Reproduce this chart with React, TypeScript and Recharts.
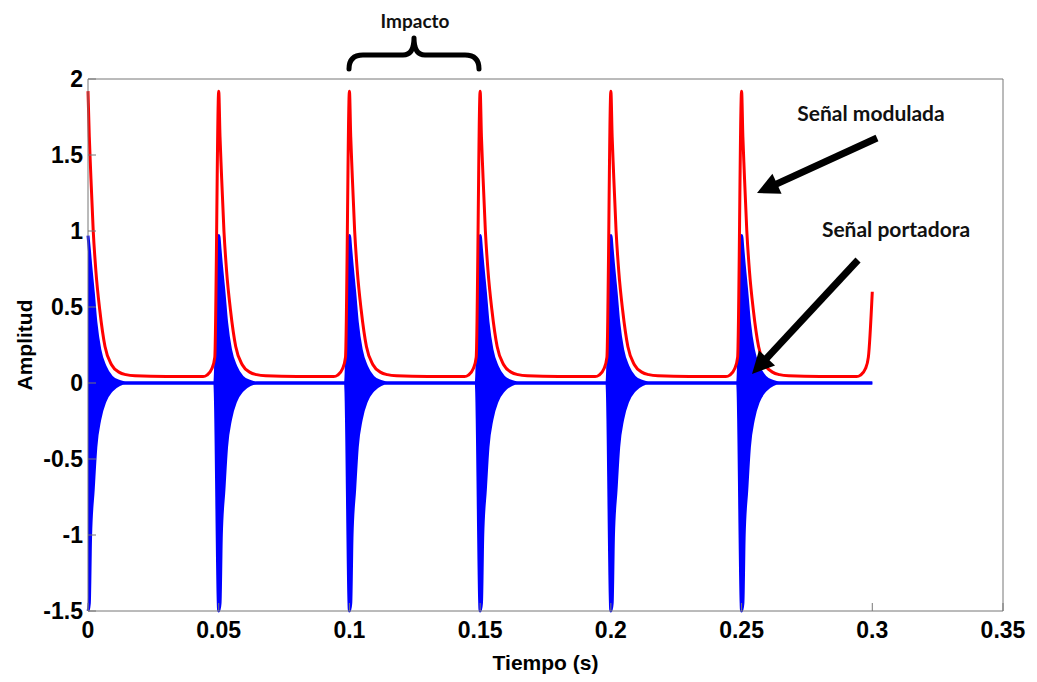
import React from "react";
import { Area, ComposedChart, Line, XAxis, YAxis } from "recharts";

// impact instants (s) and the final sample of the record
const impactTimes = [0, 0.05, 0.1, 0.15, 0.2, 0.25];
const endTime = 0.3;
const endModulated = 0.6;

// envelope rise just before each impact (offset in s, amplitude)
const preOffsets = [-0.006, -0.0045, -0.0026, -0.0015];
const preModulated = [0.042, 0.052, 0.095, 0.17];

// decay after each impact
const decayOffsets = [0, 0.0005, 0.001, 0.002, 0.003, 0.0045, 0.0065, 0.009, 0.012, 0.0145, 0.018, 0.03, 0.04];
const decayModulated = [1.92, 1.62, 1.4, 1.0, 0.74, 0.48, 0.24, 0.12, 0.07, 0.055, 0.047, 0.042, 0.042];
const decayCarrierTop = [0.97, 0.88, 0.78, 0.6, 0.4, 0.22, 0.11, 0.04, 0.01, 0, 0, 0, 0];
const decayCarrierBottom = [-1.5, -1.45, -1.0, -0.7, -0.42, -0.24, -0.12, -0.05, -0.01, 0, 0, 0, 0];

const xTicks = [0, 0.05, 0.1, 0.15, 0.2, 0.25, 0.3, 0.35];
const yTicks = [-1.5, -1, -0.5, 0, 0.5, 1, 1.5, 2];

type Row = { t: number; top: number; bottom: number; modulated: number };

const rows: Row[] = [];
impactTimes.forEach((t0, i) => {
  if (i > 0) {
    preOffsets.forEach((o, j) => rows.push({ t: t0 + o, top: 0, bottom: 0, modulated: preModulated[j] }));
  }
  decayOffsets.forEach((o, k) =>
    rows.push({ t: t0 + o, top: decayCarrierTop[k], bottom: decayCarrierBottom[k], modulated: decayModulated[k] })
  );
});
preOffsets.forEach((o, j) => rows.push({ t: endTime + o, top: 0, bottom: 0, modulated: preModulated[j] }));
rows.push({ t: endTime, top: 0, bottom: 0, modulated: endModulated });

const axisColor = "#777";
const tickFont = { fill: "#000", fontSize: 23, fontWeight: 700, fontFamily: "Liberation Sans, Arial, sans-serif" };
const labelFont = { fill: "#000", fontSize: 21, fontWeight: 700, fontFamily: "Liberation Sans, Arial, sans-serif" };

function Arrow({ from, to }: { from: [number, number]; to: [number, number] }) {
  const dx = to[0] - from[0];
  const dy = to[1] - from[1];
  const len = Math.hypot(dx, dy);
  const ux = dx / len;
  const uy = dy / len;
  const head = 22;
  const half = 11;
  const bx = to[0] - ux * head;
  const by = to[1] - uy * head;
  const pts = `${to[0]},${to[1]} ${bx - uy * half},${by + ux * half} ${bx + uy * half},${by - ux * half}`;
  return (
    <g>
      <line x1={from[0]} y1={from[1]} x2={bx + ux * 2} y2={by + uy * 2} stroke="#000" strokeWidth={7} />
      <polygon points={pts} fill="#000" />
    </g>
  );
}

export default function App() {
  const note = { fontFamily: "Lato, 'Open Sans', sans-serif", fontWeight: 700, fill: "#111" };
  return (
    <div style={{ position: "absolute", left: 0, top: 0, width: 1037, height: 682, background: "#fff" }}>
      <ComposedChart width={1037} height={682} data={rows} margin={{ top: 78, right: 33, bottom: 0, left: 0 }}>
        <XAxis
          dataKey="t"
          type="number"
          domain={[0, 0.35]}
          ticks={xTicks}
          interval={0}
          height={71}
          tickSize={-8}
          tickMargin={19}
          stroke={axisColor}
          tick={tickFont}
          label={{ value: "Tiempo (s)", position: "insideBottom", offset: 12, style: labelFont }}
        />
        <XAxis
          xAxisId="top"
          dataKey="t"
          orientation="top"
          type="number"
          domain={[0, 0.35]}
          ticks={xTicks}
          interval={0}
          height={1}
          tickSize={-8}
          tick={false}
          stroke={axisColor}
        />
        <YAxis
          type="number"
          domain={[-1.5, 2]}
          ticks={yTicks}
          interval={0}
          width={88}
          tickSize={-8}
          tickMargin={13}
          stroke={axisColor}
          tick={tickFont}
          label={{ value: "Amplitud", angle: -90, position: "insideLeft", offset: 25, style: { ...labelFont, textAnchor: "middle" } }}
        />
        <YAxis
          yAxisId="right"
          orientation="right"
          type="number"
          domain={[-1.5, 2]}
          ticks={yTicks}
          interval={0}
          width={1}
          tickSize={-8}
          tick={false}
          stroke={axisColor}
        />
        <Area
          type="monotone"
          dataKey={(d: Row) => [d.bottom, d.top]}
          stroke="#0000ff"
          strokeWidth={3}
          fill="#0000ff"
          fillOpacity={1}
          dot={false}
          activeDot={false}
          isAnimationActive={false}
        />
        <Line
          type="monotone"
          dataKey="modulated"
          stroke="#ff0000"
          strokeWidth={3}
          dot={false}
          activeDot={false}
          isAnimationActive={false}
        />
        {/* invisible series so the top and right frame axes get drawn */}
        <Line
          xAxisId="top"
          yAxisId="right"
          dataKey="modulated"
          stroke="none"
          dot={false}
          activeDot={false}
          legendType="none"
          isAnimationActive={false}
        />
      </ComposedChart>
      <svg width={1037} height={682} style={{ position: "absolute", left: 0, top: 0, pointerEvents: "none" }}>
        <text x={415} y={28} textAnchor="middle" fontSize={19} {...note}>
          Impacto
        </text>
        <path
          d="M 349 69 Q 349 55 363 55 L 403 55 Q 414 55 414 38 Q 414 55 425 55 L 465 55 Q 479 55 479 69"
          fill="none"
          stroke="#000"
          strokeWidth={5}
          strokeLinecap="round"
          strokeLinejoin="round"
        />
        <text x={871} y={121} textAnchor="middle" fontSize={21} {...note}>
          Señal modulada
        </text>
        <text x={896} y={237} textAnchor="middle" fontSize={21} {...note}>
          Señal portadora
        </text>
        <Arrow from={[877, 138]} to={[757, 193]} />
        <Arrow from={[858, 260]} to={[752, 374]} />
      </svg>
    </div>
  );
}
